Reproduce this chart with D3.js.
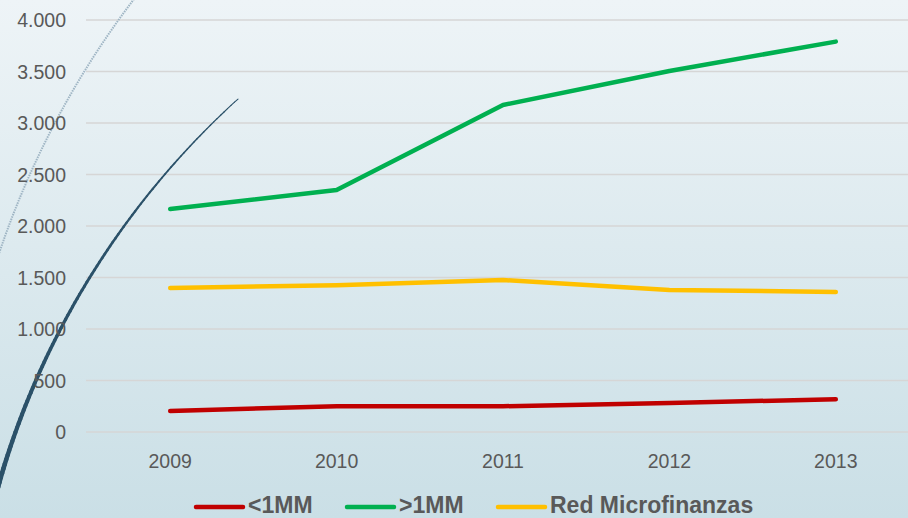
<!DOCTYPE html>
<html><head><meta charset="utf-8">
<script src="https://cdn.jsdelivr.net/npm/d3@7"></script>
<style>html,body{margin:0;padding:0;overflow:hidden;}svg{display:block;}</style>
</head><body>
<script>
const years = ["2009","2010","2011","2012","2013"];
const lessThan1MM = [204, 250, 250, 282, 318];
const moreThan1MM = [2165, 2350, 3175, 3505, 3790];
const redMicrofinanzas = [1398, 1425, 1476, 1379, 1360];
const yTicks = [0,500,1000,1500,2000,2500,3000,3500,4000];
const seriesNames = ["<1MM", ">1MM", "Red Microfinanzas"];
const seriesColors = ["#c00000", "#00b050", "#ffc000"];

const W = 908, H = 518;
const svg = d3.select("body").append("svg").attr("width", W).attr("height", H);
const defs = svg.append("defs");
const grad = defs.append("linearGradient").attr("id","bg").attr("x1",0).attr("y1",0).attr("x2",0).attr("y2",1);
grad.append("stop").attr("offset","0%").attr("stop-color","#eef4f7");
grad.append("stop").attr("offset","100%").attr("stop-color","#cadfe6");
svg.append("rect").attr("width",W).attr("height",H).attr("fill","url(#bg)");

const x = d3.scaleBand().domain(years).range([87, 919]);
const y = d3.scaleLinear().domain([0,4000]).range([432, 20]);
const font = "'Liberation Sans', Arial, sans-serif";

// gridlines
svg.append("g").selectAll("line").data(yTicks).join("line")
  .attr("x1",86).attr("x2",W).attr("y1",d=>y(d)).attr("y2",d=>y(d))
  .attr("stroke","#d6d6d6").attr("stroke-width",1.3);

// decorative circular arcs (background ornament)
function arcPoints(cx, cy, r, a0, a1, n){
  return d3.range(n+1).map(i => {
    const a = a0 + (a1-a0)*i/n;
    return [cx + r*Math.cos(a), cy + r*Math.sin(a)];
  });
}
// dotted arc
{
  const cx=837, cy=535, r=884;
  const a0 = Math.atan2(-10-cy, 139-cx), a1 = Math.atan2(270-cy, -10-cx);
  svg.append("path").attr("d", d3.line()(arcPoints(cx,cy,r,a0,a1,60))).attr("fill","none")
    .attr("stroke","#9fb5c4").attr("stroke-width",2).attr("stroke-dasharray","1.5,1");
}
// thick tapering arc
{
  const cx=790.7, cy=709.1, r=823.2;
  const a0 = Math.atan2(500-cy, -8-cx), a1 = Math.atan2(99-cy, 238-cx);
  const pts = arcPoints(cx,cy,r,a0,a1,100);
  const g = svg.append("g");
  for (let i=0;i<pts.length-1;i++){
    const t = i/(pts.length-1);
    g.append("line").attr("x1",pts[i][0]).attr("y1",pts[i][1])
      .attr("x2",pts[i+1][0]).attr("y2",pts[i+1][1])
      .attr("stroke","#2b5169").attr("stroke-width", 4.8 - 3.8*t).attr("stroke-linecap","round");
  }
}

// y tick labels
svg.append("g").selectAll("text").data(yTicks).join("text")
  .attr("x",66).attr("y",d=>y(d)+7).attr("text-anchor","end")
  .attr("font-family",font).attr("font-size",19.5).attr("fill","#595959")
  .text(d=>d3.format(",")(d).replace(/,/g,"."));

// x labels
svg.append("g").selectAll("text").data(years).join("text")
  .attr("x",d=>x(d)+x.bandwidth()/2).attr("y",468).attr("text-anchor","middle")
  .attr("font-family",font).attr("font-size",19.5).attr("fill","#595959")
  .text(d=>d);

// series
const series = [lessThan1MM, moreThan1MM, redMicrofinanzas];
const sLine = d3.line().x((d,i)=>x(years[i])+x.bandwidth()/2).y(d=>y(d));
series.forEach((s,k)=>{
  svg.append("path").attr("d", sLine(s)).attr("fill","none")
    .attr("stroke",seriesColors[k]).attr("stroke-width",4.5)
    .attr("stroke-linecap","round").attr("stroke-linejoin","round");
});

// legend
const legX = [196, 347, 498];
const lg = svg.append("g");
seriesNames.forEach((n,k)=>{
  lg.append("line").attr("x1",legX[k]).attr("x2",legX[k]+47).attr("y1",507).attr("y2",507)
    .attr("stroke",seriesColors[k]).attr("stroke-width",4.5).attr("stroke-linecap","round");
  lg.append("text").attr("x",legX[k]+52).attr("y",513)
    .attr("font-family",font).attr("font-weight","bold").attr("font-size",23).attr("fill","#595959")
    .text(n);
});
</script>
</body></html>
